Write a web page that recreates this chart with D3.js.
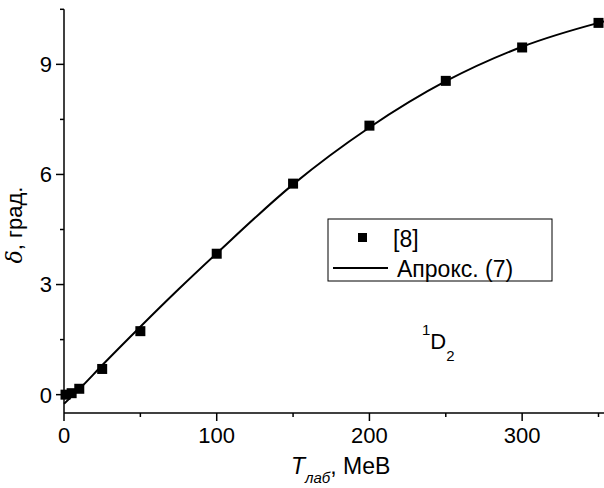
<!DOCTYPE html>
<html>
<head>
<meta charset="utf-8">
<script src="https://cdn.jsdelivr.net/npm/d3@7"></script>
<style>
  body { margin: 0; background: #fff; }
  text { font-family: "Liberation Sans", Arial, sans-serif; fill: #000; }
</style>
</head>
<body>
<svg width="604" height="488"></svg>
<script>
// experimental points [8]
var energies = [1, 5, 10, 25, 50, 100, 150, 200, 250, 300, 350];
var phases = [0.0, 0.04, 0.16, 0.7, 1.73, 3.84, 5.75, 7.33, 8.55, 9.46, 10.13];

// approximation (7)
var fitEnergies = [0, 10, 25, 50, 75, 100, 150, 200, 250, 300, 350, 353.6];
var fitPhases = [-0.25, 0.15, 0.8, 1.85, 2.87, 3.85, 5.73, 7.28, 8.54, 9.48, 10.13, 10.17];

var xTicks = [0, 100, 200, 300];
var yTicks = [0, 3, 6, 9];

var svg = d3.select("svg");

var x = d3.scaleLinear().domain([0, 353.6]).range([64, 604]);
var y = d3.scaleLinear().domain([-0.5, 10.5]).range([413, 9.3]);

// x axis
var xAxis = svg.append("g").attr("transform", "translate(0," + y.range()[0] + ")");
xAxis.append("line")
    .attr("x1", x.range()[0]).attr("x2", x.range()[1])
    .attr("stroke", "#000").attr("stroke-width", 1.5);
xAxis.selectAll(".minor")
    .data(d3.range(50, 351, 100))
    .enter().append("line")
    .attr("x1", x).attr("x2", x)
    .attr("y1", 0).attr("y2", 4)
    .attr("stroke", "#000").attr("stroke-width", 1.5);
var xt = xAxis.selectAll(".major")
    .data(xTicks)
    .enter().append("g")
    .attr("transform", function(d) { return "translate(" + x(d) + ",0)"; });
xt.append("line").attr("y2", 8).attr("stroke", "#000").attr("stroke-width", 1.5);
xt.append("text")
    .attr("y", 30)
    .attr("text-anchor", "middle")
    .attr("font-size", 22)
    .text(function(d) { return d; });

// y axis
var yAxis = svg.append("g").attr("transform", "translate(" + x.range()[0] + ",0)");
yAxis.append("line")
    .attr("y1", y.range()[0]).attr("y2", y.range()[1])
    .attr("stroke", "#000").attr("stroke-width", 1.5);
yAxis.selectAll(".minor")
    .data([1.5, 4.5, 7.5, 10.5])
    .enter().append("line")
    .attr("y1", y).attr("y2", y)
    .attr("x1", 0).attr("x2", -4)
    .attr("stroke", "#000").attr("stroke-width", 1.5);
var yt = yAxis.selectAll(".major")
    .data(yTicks)
    .enter().append("g")
    .attr("transform", function(d) { return "translate(0," + y(d) + ")"; });
yt.append("line").attr("x2", -8).attr("stroke", "#000").attr("stroke-width", 1.5);
yt.append("text")
    .attr("x", -12)
    .attr("dy", "0.36em")
    .attr("text-anchor", "end")
    .attr("font-size", 22)
    .text(function(d) { return d; });

// axis titles
var xTitle = svg.append("text")
    .attr("x", 291).attr("y", 474)
    .attr("font-size", 23);
xTitle.append("tspan").attr("font-style", "italic").text("T");
xTitle.append("tspan").attr("font-style", "italic").attr("font-size", 15).attr("dy", 9).text("лаб");
xTitle.append("tspan").attr("dy", -9).text(", MeB");

var yTitle = svg.append("text")
    .attr("transform", "translate(22,225)rotate(-90)")
    .attr("text-anchor", "middle")
    .attr("font-size", 22);
yTitle.append("tspan").attr("font-style", "italic").attr("font-family", "DejaVu Serif").text("δ");
yTitle.append("tspan").text(", град.");

// fit curve
var line = d3.line()
    .x(function(d, i) { return x(fitEnergies[i]); })
    .y(function(d) { return y(d); })
    .curve(d3.curveMonotoneX);
svg.append("path")
    .datum(fitPhases)
    .attr("d", line)
    .attr("fill", "none")
    .attr("stroke", "#000")
    .attr("stroke-width", 2);

// points
svg.append("g").selectAll("rect")
    .data(phases)
    .enter().append("rect")
    .attr("x", function(d, i) { return x(energies[i]) - 5; })
    .attr("y", function(d) { return y(d) - 5; })
    .attr("width", 10).attr("height", 10)
    .attr("fill", "#000");

// legend
var legend = svg.append("g").attr("transform", "translate(328,219)");
legend.append("rect")
    .attr("width", 224).attr("height", 62)
    .attr("fill", "#fff").attr("stroke", "#000").attr("stroke-width", 1);
legend.append("rect").attr("x", 30).attr("y", 14).attr("width", 9).attr("height", 9).attr("fill", "#000");
legend.append("text").attr("x", 65).attr("y", 28).attr("font-size", 23).text("[8]");
legend.append("line").attr("x1", 5).attr("x2", 60).attr("y1", 49).attr("y2", 49)
    .attr("stroke", "#000").attr("stroke-width", 2);
legend.append("text").attr("x", 69).attr("y", 58).attr("font-size", 23).text("Апрокс. (7)");

// state label
var stateLabel = svg.append("text").attr("x", 422).attr("y", 349).attr("font-size", 22);
stateLabel.append("tspan").attr("font-size", 15).attr("dy", -14).text("1");
stateLabel.append("tspan").attr("dy", 14).text("D");
stateLabel.append("tspan").attr("font-size", 15).attr("dy", 12).text("2");
</script>
</body>
</html>
